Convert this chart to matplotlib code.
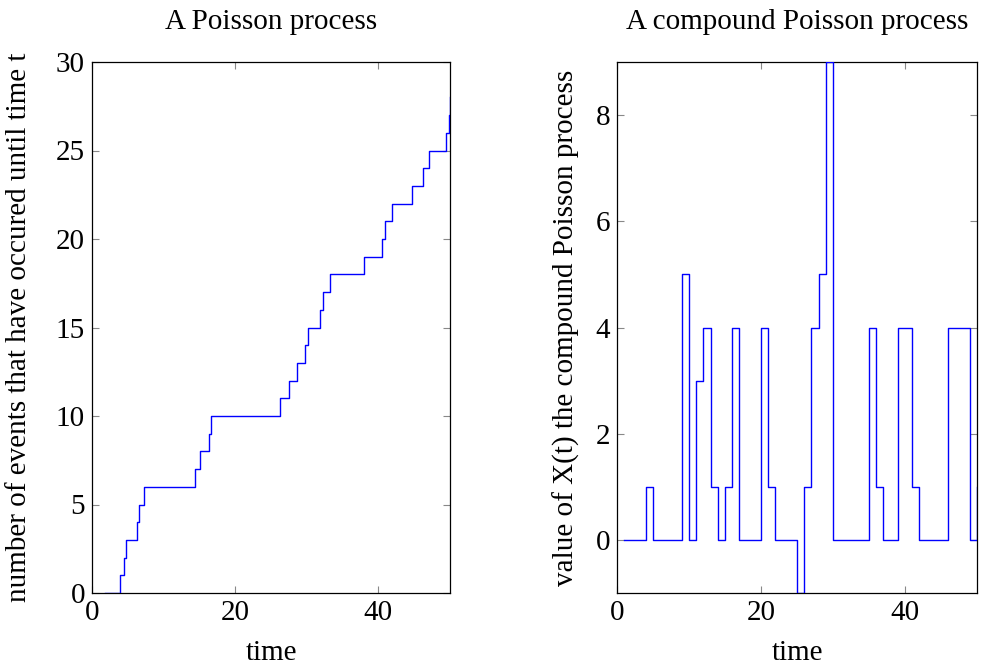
import matplotlib
matplotlib.use("Agg")
import matplotlib.pyplot as plt
import numpy as np

plt.rcParams['font.family'] = ['Liberation Serif', 'DejaVu Serif']
plt.rcParams['mathtext.fontset'] = 'stix'

# Poisson process: start time and event times
start_time = 1.85
event_times = [3.9, 4.5, 4.7, 6.25, 6.6, 7.2, 14.4, 15.1, 16.4, 16.6,
               26.3, 27.5, 28.6, 29.8, 30.1, 31.8, 32.2, 33.2, 38.0, 40.5,
               40.9, 41.9, 44.7, 46.25, 47.0, 49.4, 49.8, 49.95]

# Compound Poisson process sampled at integer times
cp_times = list(range(1, 51))
cp_values = [0, 0, 0, 1, 0, 0, 0, 0, 5, 0,
             3, 4, 1, 0, 1, 4, 0, 0, 0, 4,
             1, 0, 0, 0, -1, 1, 4, 5, 9, 0,
             0, 0, 0, 0, 4, 1, 0, 0, 4, 4,
             1, 0, 0, 0, 0, 4, 4, 4, 0, 1]

left_yticks = [0, 5, 10, 15, 20, 25, 30]
right_yticks = [0, 2, 4, 6, 8]
xticks = [0, 20, 40]

fs = 21
fig = plt.figure(figsize=(9.92, 6.67), dpi=100)
ax1 = fig.add_axes([92/992, 1-593/667, (450-92)/992, (593-62)/667])
ax2 = fig.add_axes([617/992, 1-593/667, (977-617)/992, (593-62)/667])

pp_x = [start_time] + event_times
pp_y = list(range(len(pp_x)))
ax1.step(pp_x, pp_y, where='post', color='blue', lw=1.0, zorder=3)
ax1.set_xlim(0, 50)
ax1.set_ylim(0, 30)
ax1.set_yticks(left_yticks)
ax1.set_xticks(xticks)
ax1.set_title('A Poisson process', fontsize=fs, pad=24)
ax1.set_xlabel('time', fontsize=fs, labelpad=10)
ax1.set_ylabel('number of events that have occured until time t', fontsize=fs, labelpad=17)

ax2.step(cp_times, cp_values, where='post', color='blue', lw=1.0, zorder=3)
ax2.set_xlim(0, 50)
ax2.set_ylim(-1, 9)
ax2.set_yticks(right_yticks)
ax2.set_xticks(xticks)
ax2.set_title('A compound Poisson process', fontsize=fs, pad=24)
ax2.set_xlabel('time', fontsize=fs, labelpad=10)
ax2.set_ylabel('value of X(t) the compound Poisson process', fontsize=fs, labelpad=11)

for ax in (ax1, ax2):
    ax.tick_params(direction='in', length=5, width=0.8, color='#888888',
                   top=True, right=True, labelsize=fs, pad=5)
    for s in ax.spines.values():
        s.set_linewidth(0.9)
        s.set_color('black')

fig.savefig('out.png', dpi=100)
